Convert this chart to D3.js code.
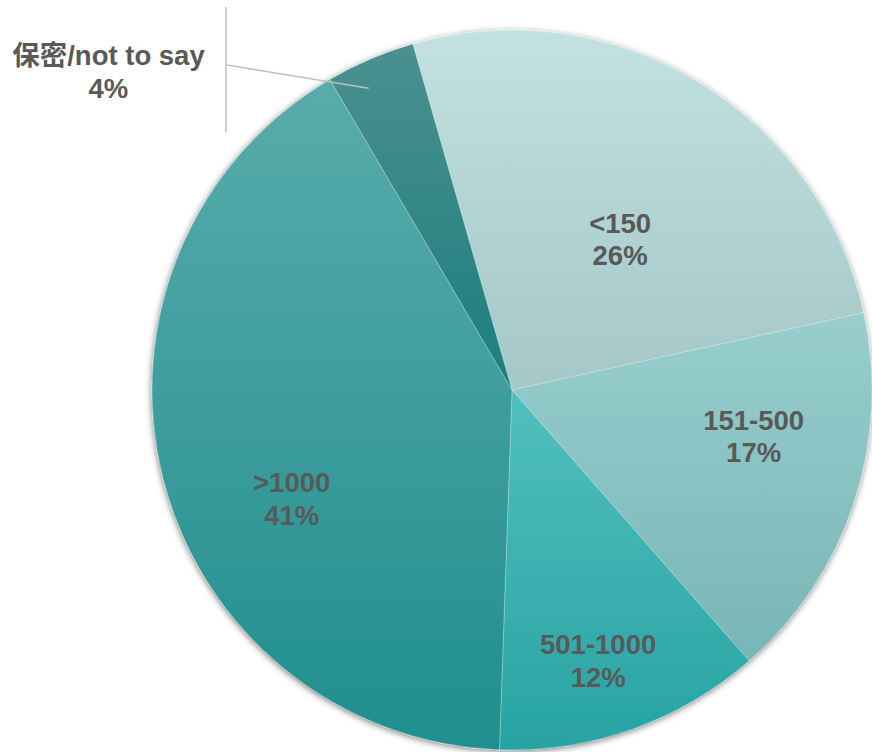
<!DOCTYPE html>
<html>
<head>
<meta charset="utf-8">
<script src="https://cdn.jsdelivr.net/npm/d3@7"></script>
<style>
  html, body { margin: 0; padding: 0; background: #ffffff; }
  svg { display: block; }
</style>
</head>
<body>
<svg id="chart" width="872" height="752"></svg>
<script>
// Company size categories and their shares (%)
const categories = ["<150", "151-500", "501-1000", ">1000", "保密/not to say"];
const shares = [26, 17, 12, 41, 4];

// Vertical gradient stops per slice (top, bottom)
const sliceTop = ["#c3e1e1", "#98cece", "#52bfbf", "#5aabab", "#4b9090"];
const sliceBottom = ["#a4c7c7", "#78b6b5", "#27a3a3", "#1f8f8e", "#1c7e7e"];

// Label placement in polar terms around the pie centre: angle (deg, clockwise from 12 o'clock), distance (px)
const labelAngle = [37.4, 103, 162.9, 241.8, 307.4];
const labelDist = [178, 248, 293, 250, 508];

const width = 872, height = 752;
const cx = 512, cy = 390, radius = 360;
const rotation = -16 * Math.PI / 180;

const svg = d3.select("#chart");
const defs = svg.append("defs");

const shadow = defs.append("filter")
  .attr("id", "pieShadow")
  .attr("x", "-10%").attr("y", "-10%")
  .attr("width", "120%").attr("height", "120%");
shadow.append("feDropShadow")
  .attr("dx", -0.5).attr("dy", 1.5)
  .attr("stdDeviation", 3)
  .attr("flood-color", "#000")
  .attr("flood-opacity", 0.5);

categories.forEach((c, i) => {
  const g = defs.append("linearGradient")
    .attr("id", "grad" + i)
    .attr("x1", 0).attr("y1", 0).attr("x2", 0).attr("y2", 1);
  g.append("stop").attr("offset", "0%").attr("stop-color", sliceTop[i]);
  g.append("stop").attr("offset", "100%").attr("stop-color", sliceBottom[i]);
});

const data = categories.map((c, i) => ({ name: c, value: shares[i], idx: i }));

const pie = d3.pie()
  .value(d => d.value)
  .sort(null)
  .startAngle(rotation)
  .endAngle(rotation + 2 * Math.PI);

const arc = d3.arc().innerRadius(0).outerRadius(radius);

const root = svg.append("g").attr("transform", `translate(${cx},${cy})`);

root.append("g")
  .attr("filter", "url(#pieShadow)")
  .selectAll("path")
  .data(pie(data))
  .join("path")
  .attr("d", arc)
  .attr("fill", d => `url(#grad${d.data.idx})`)
  .attr("stroke", "rgba(255,255,255,0.35)")
  .attr("stroke-width", 0.8);

// Leader line for the small slice, running out to its label
const smallArc = pie(data)[4];
const leaderAngle = (smallArc.startAngle + smallArc.endAngle) / 2 - 2.2 * Math.PI / 180;
const leaderStart = [Math.sin(leaderAngle) * 334, -Math.cos(leaderAngle) * 334];
const elbow = [227 - cx, 65 - cy];
root.append("path")
  .attr("d", `M${leaderStart[0]},${leaderStart[1]}L${elbow[0]},${elbow[1]}`)
  .attr("fill", "none")
  .attr("stroke", "#bfbfbf")
  .attr("stroke-width", 1.5);
root.append("line")
  .attr("x1", elbow[0] - 1).attr("x2", elbow[0] - 1)
  .attr("y1", 7 - cy).attr("y2", 132 - cy)
  .attr("stroke", "#bfbfbf")
  .attr("stroke-width", 1.5);

// Category and percentage labels
const labels = root.append("g")
  .attr("font-family", "'Liberation Sans', Arial, 'Noto Sans CJK SC', sans-serif")
  .attr("font-weight", "bold")
  .attr("font-size", 27.5)
  .attr("fill", "#595959")
  .attr("text-anchor", "middle");

pie(data).forEach((d, i) => {
  const a = labelAngle[i] * Math.PI / 180;
  const x = Math.sin(a) * labelDist[i];
  const y = -Math.cos(a) * labelDist[i];
  const t = labels.append("text").attr("x", x).attr("y", y);
  t.append("tspan").attr("x", x).attr("y", y - 16).text(d.data.name);
  t.append("tspan").attr("x", x).attr("y", y + 16.5).text(d3.format(".0f")(d.data.value) + "%");
});
</script>
</body>
</html>
